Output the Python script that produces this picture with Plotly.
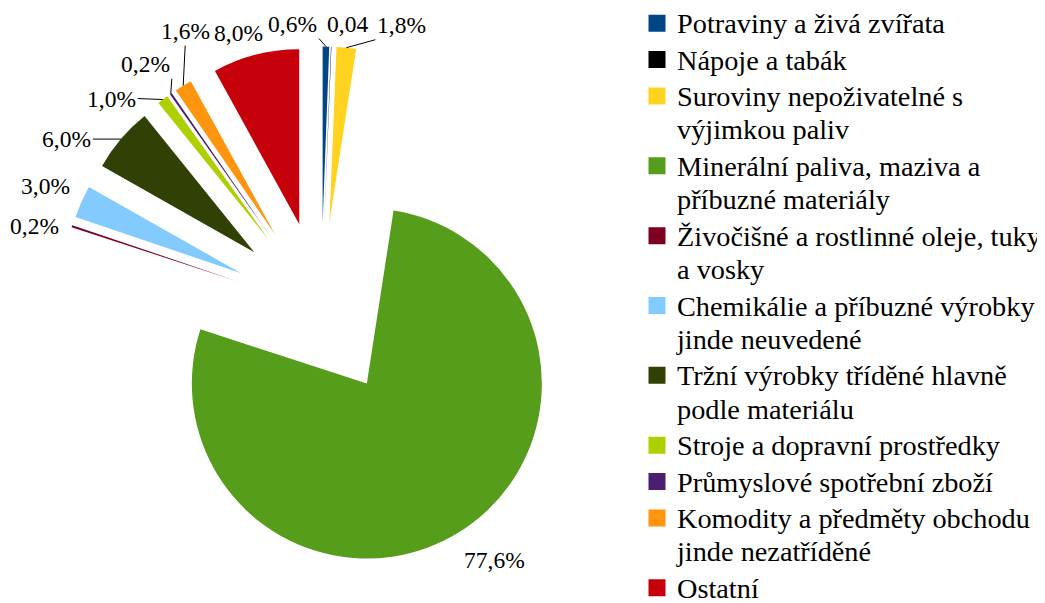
import math
import plotly.graph_objects as go

# ---------------- data ----------------
categories = [
    "Potraviny a živá zvířata",
    "Nápoje a tabák",
    "Suroviny nepoživatelné s|výjimkou paliv",
    "Minerální paliva, maziva a|příbuzné materiály",
    "Živočišné a rostlinné oleje, tuky|a vosky",
    "Chemikálie a příbuzné výrobky|jinde neuvedené",
    "Tržní výrobky tříděné hlavně|podle materiálu",
    "Stroje a dopravní prostředky",
    "Průmyslové spotřební zboží",
    "Komodity a předměty obchodu|jinde nezatříděné",
    "Ostatní",
]
values = [0.6, 0.04, 1.8, 77.6, 0.2, 3.0, 6.0, 1.0, 0.2, 1.6, 8.0]
value_labels = ["0,6%", "0,04", "1,8%", "77,6%", "0,2%", "3,0%", "6,0%",
                "1,0%", "0,2%", "1,6%", "8,0%"]
colors = ["#004586", "#000000", "#FFD320", "#579D1C", "#7E0021", "#83CAFF",
          "#314004", "#AECF00", "#4B1F6F", "#FF950E", "#C5000B"]

# ---------------- layout geometry ----------------
W, H = 1045, 603
PAGE = 8                   # default page margin of the html body
CX, CY = 321 - PAGE, 309 - PAGE   # pie centre (figure px)
R = 175                    # slice radius (px)
PULL = 0.5                 # explosion, fraction of radius
HALF = R * (1 + PULL)      # half size of the pie domain box
FONT = "Liberation Serif"
LEG_X = 677 - PAGE - 40    # legend left edge (figure px)

# label placement: (leader line?, ax/xshift, ay/yshift, xanchor, yanchor)
label_place = [
    (True, -7, -8, "right", "bottom"),
    (False, 16, 23, "center", "middle"),
    (True, 29, -8, "left", "bottom"),
    (False, 36, -27, "center", "middle"),
    (False, -37, 0, "center", "middle"),
    (False, -36, 16, "center", "middle"),
    (True, -28, 0, "right", "middle"),
    (True, -25, -1, "right", "middle"),
    (True, 1, -15, "right", "bottom"),
    (True, 2, -40, "center", "bottom"),
    (False, -17, 22, "center", "middle"),
]


def legend_text(s):
    return "<br>".join('<span style="font-size:28.3px">%s</span>' % p for p in s.split("|"))


labels = [legend_text(c) for c in categories]

# main (visible) exploded pie
pie = go.Pie(
    labels=labels,
    values=values,
    sort=False,
    direction="clockwise",
    rotation=0,
    pull=[PULL] * len(values),
    marker=dict(colors=colors, line=dict(width=0)),
    textinfo="none",
    hoverinfo="label+value",
    showlegend=False,
    domain=dict(x=[(CX - HALF) / W, (CX + HALF) / W],
                y=[1 - (CY + HALF) / H, 1 - (CY - HALF) / H]),
)

# legend carrier: same slices, drawn tiny underneath the (white) legend box,
# gives the legend its larger colour squares
lx, ly = 960 - PAGE, 300 - PAGE
legend_pie = go.Pie(
    labels=labels,
    values=values,
    sort=False,
    direction="clockwise",
    marker=dict(colors=colors, line=dict(color=colors, width=5)),
    textinfo="none",
    hoverinfo="skip",
    showlegend=True,
    domain=dict(x=[lx / W, (lx + 1) / W], y=[1 - (ly + 1) / H, 1 - ly / H]),
)

fig = go.Figure([pie, legend_pie])

total = sum(values)
cum = 0.0
annotations = []
for v, txt, (arrow, dx, dy, xa, ya) in zip(values, value_labels, label_place):
    mid = math.radians((cum + v / 2) / total * 360)
    cum += v
    px = CX + R * (1 + PULL) * math.sin(mid)
    py = CY - R * (1 + PULL) * math.cos(mid)
    ann = dict(x=px / W, y=1 - py / H, xref="paper", yref="paper", text=txt,
               font=dict(family=FONT, size=23.5, color="#000000"))
    if arrow:
        ann.update(showarrow=True, arrowhead=0, arrowwidth=1, arrowcolor="#000000",
                   ax=dx, ay=dy, xanchor=xa, yanchor=ya, standoff=0)
    else:
        ann.update(showarrow=False, xshift=dx, yshift=dy, xanchor=xa, yanchor=ya)
    annotations.append(ann)

fig.update_layout(
    width=W, height=H,
    margin=dict(l=0, r=0, t=0, b=0, autoexpand=False),
    paper_bgcolor="white",
    plot_bgcolor="white",
    font=dict(family=FONT, color="#000000"),
    annotations=annotations,
    showlegend=True,
    legend=dict(x=LEG_X / W, y=1 + 8 / H, xanchor="left", yanchor="top",
                font=dict(family=FONT, size=25.7, color="#000000"),
                valign="top", bgcolor="#FFFFFF", borderwidth=0,
                maxheight=1000, traceorder="normal"),
)

fig.write_html("out.html")
